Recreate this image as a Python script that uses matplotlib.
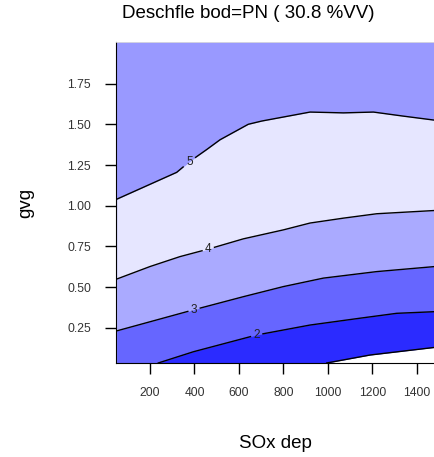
import numpy as np
import matplotlib
matplotlib.use('Agg')
import matplotlib.pyplot as plt

plt.rcParams['font.family'] = ['Liberation Sans', 'DejaVu Sans']

# contour lines (x = SOx dep, y = gvg)
lvl5_x = [50, 320, 377, 455, 515, 642, 703, 920, 1070, 1205, 1340, 1482]
lvl5_y = [1.04, 1.205, 1.27, 1.345, 1.405, 1.50, 1.52, 1.575, 1.57, 1.575, 1.55, 1.525]
lvl4_x = [50, 200, 335, 462, 620, 800, 920, 1070, 1220, 1482]
lvl4_y = [0.55, 0.627, 0.688, 0.734, 0.797, 0.852, 0.894, 0.924, 0.951, 0.971]
lvl3_x = [50, 395, 620, 800, 980, 1220, 1482]
lvl3_y = [0.232, 0.361, 0.442, 0.504, 0.556, 0.596, 0.627]
lvl2_x = [237, 395, 680, 920, 1145, 1310, 1482]
lvl2_y = [0.035, 0.104, 0.207, 0.268, 0.31, 0.34, 0.35]
lvl1_x = [995, 1190, 1482]
lvl1_y = [0.035, 0.084, 0.131]

levels = [5, 4, 3, 2, 1]
label_x = {5: 377, 4: 462, 3: 398, 2: 680}
# fill colour below each line (above level 5 is the axes colour)
fill_top = '#9999FF'
fill_below = {5: '#E6E6FF', 4: '#AAAAFF', 3: '#6666FF', 2: '#2B2BFF', 1: '#FFFFFF'}

xticks = [200, 400, 600, 800, 1000, 1200, 1400]
yticks = [0.25, 0.50, 0.75, 1.00, 1.25, 1.50, 1.75]

lines = {5: (lvl5_x, lvl5_y), 4: (lvl4_x, lvl4_y), 3: (lvl3_x, lvl3_y),
         2: (lvl2_x, lvl2_y), 1: (lvl1_x, lvl1_y)}

fig = plt.figure(figsize=(4.35, 4.57), dpi=100)
ax = fig.add_axes([116 / 435, 94 / 457, 1 - 116 / 435, 321 / 457])
ax.set_facecolor(fill_top)
ax.set_xlim(47, 1482)
ax.set_ylim(0.035, 2.005)

for lv in levels:
    x, y = lines[lv]
    ax.fill_between(x, y, 0, color=fill_below[lv], lw=0, zorder=1)

gap = 28
for lv in levels:
    x, y = np.array(lines[lv][0], float), np.array(lines[lv][1], float)
    if lv in label_x:
        xl = label_x[lv]
        yl = np.interp(xl, x, y)
        left = x < xl - gap
        right = x > xl + gap
        xa = np.append(x[left], xl - gap)
        ya = np.append(y[left], np.interp(xl - gap, x, y))
        xb = np.insert(x[right], 0, xl + gap)
        yb = np.insert(y[right], 0, np.interp(xl + gap, x, y))
        ax.plot(xa, ya, color='black', lw=1, zorder=2)
        ax.plot(xb, yb, color='black', lw=1, zorder=2)
        ax.text(xl, yl, str(lv), ha='center', va='center', fontsize=8.5,
                color='#222222', zorder=3)
    else:
        ax.plot(x, y, color='black', lw=1, zorder=2)

ax.set_xticks(xticks)
ax.set_yticks(yticks)
ax.set_yticklabels([f'{v:.2f}' for v in yticks])
ax.tick_params(axis='both', direction='out', length=8, width=1, labelsize=8.7,
               labelcolor='#333333')
ax.tick_params(axis='x', pad=9)
ax.tick_params(axis='y', pad=10)
ax.spines['right'].set_visible(False)
ax.spines['top'].set_color('#dddddd')
ax.spines['top'].set_linewidth(0.6)

ax.set_xlabel('SOx dep', fontsize=13.5, labelpad=26)
ax.set_ylabel('gvg', fontsize=13.5, labelpad=24)
fig.text(248 / 435, 1 - 14 / 457, 'Deschfle bod=PN ( 30.8 %VV)', ha='center',
         va='center', fontsize=13.5)

fig.savefig('out.png', dpi=100)
